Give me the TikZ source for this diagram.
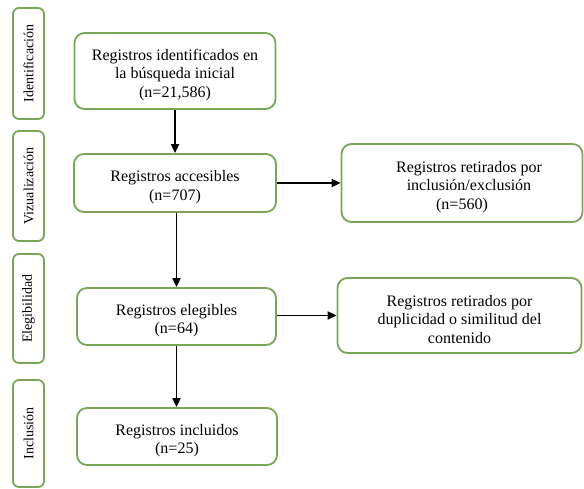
\documentclass[tikz,border=0pt]{standalone}
\usepackage{fontspec}
\setmainfont{Liberation Serif}
\usetikzlibrary{arrows.meta}
\definecolor{boxgreen}{RGB}{118,166,86}
\begin{document}
\begin{tikzpicture}[x=1pt,y=-1pt,
  mainbox/.style={draw=boxgreen,line width=1.8pt,rounded corners=10pt,fill=white,inner sep=0pt},
  boxtext/.style={align=center,inner sep=0pt,yshift=-4pt,font=\fontsize{16pt}{18.5pt}\selectfont},
  sidebox/.style={draw=boxgreen,line width=1.8pt,rounded corners=6pt,fill=white,
    minimum width=31pt,inner sep=0pt},
  sidetext/.style={rotate=90,font=\fontsize{14pt}{16pt}\selectfont},
  flow/.style={line width=1.8pt,-{Triangle[length=9pt,width=8pt]}}]
\useasboundingbox (0,0) rectangle (584,489);
% side boxes
\node[sidebox,minimum height=111pt] (s1) at (28.5,63.5) {};
\node[sidetext] (t1) at (s1.center) {Identificación};
\node[sidebox,minimum height=110pt] (s2) at (28.5,186) {};
\node[sidetext] (t2) at (s2.center) {Vizualización};
\node[sidebox,minimum height=109pt] (s3) at (28.5,308.5) {};
\node[sidetext] (t3) at (s3.center) {Elegibilidad};
\node[sidebox,minimum height=107pt] (s4) at (28.5,433.5) {};
\node[sidetext] (t4) at (s4.center) {Inclusión};
% main boxes
\node[mainbox,minimum width=201pt,minimum height=76pt] (b1) at (175,71) {};
\node[boxtext] (b1t) at (b1.center) {Registros identificados en\\la búsqueda inicial\\(n=21,586)};
\node[mainbox,minimum width=202pt,minimum height=58pt] (b2) at (175,183) {};
\node[boxtext] (b2t) at (b2.center) {Registros accesibles\\(n=707)};
\node[mainbox,minimum width=199pt,minimum height=57pt] (b3) at (176.5,316.5) {};
\node[boxtext] (b3t) at (b3.center) {Registros elegibles\\(n=64)};
\node[mainbox,minimum width=200pt,minimum height=57pt] (b4) at (177,436.5) {};
\node[boxtext] (b4t) at (b4.center) {Registros incluidos\\(n=25)};
\node[mainbox,minimum width=241pt,minimum height=78pt] (r1) at (462,183) {};
\node[boxtext] (r1t) at (r1.center) {\hspace*{14pt}Registros retirados por\\\hspace*{14pt}inclusión/exclusión\\(n=560)};
\node[mainbox,minimum width=244pt,minimum height=75pt] (r2) at (459.5,315.5) {};
\node[boxtext] (r2t) at (r2.center) {Registros retirados por\\duplicidad o similitud del\\contenido};
% connectors
\draw[flow] (b1.south) -- (b1.south |- b2.north);
\draw[flow] (b2.south -| b3.north) -- (b3.north);
\draw[flow] (b3.south) -- (b3.south |- b4.north);
\draw[flow] (b2.east) -- (r1.west);
\draw[flow] (b3.east |- r2.west) -- (r2.west);
\end{tikzpicture}
\end{document}
